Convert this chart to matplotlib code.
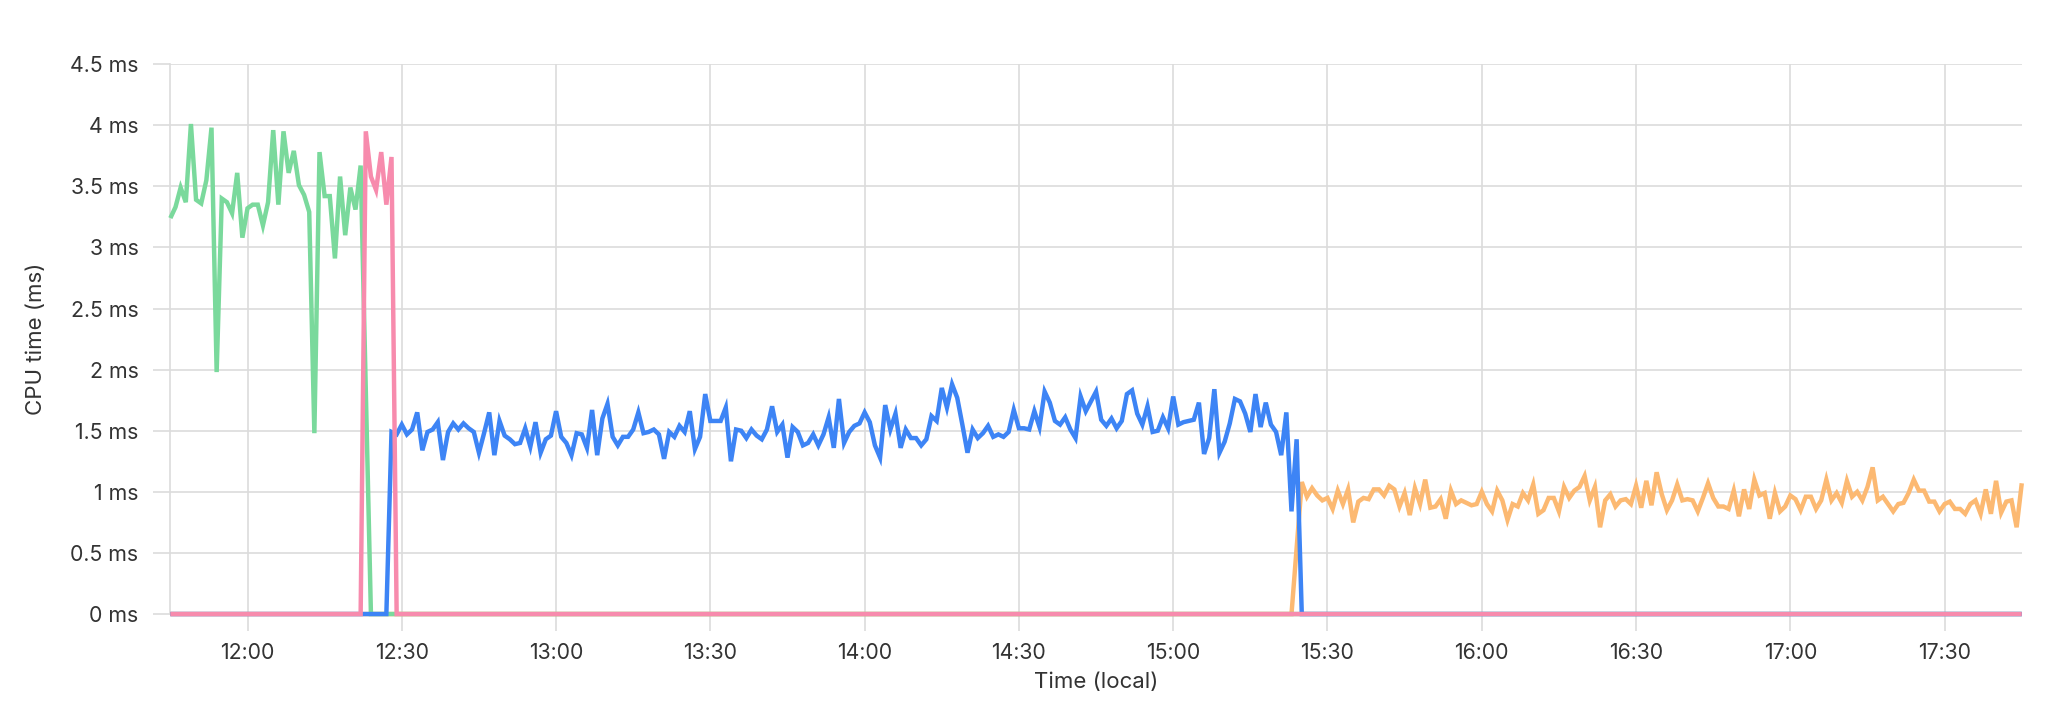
import numpy as np
import pandas as pd
import matplotlib
matplotlib.use("Agg")
import matplotlib.pyplot as plt
import matplotlib.dates as mdates
from matplotlib.ticker import FuncFormatter

plt.rcParams['font.family'] = ['Inter', 'DejaVu Sans']

# ---- data (1-minute samples, 11:45 .. 17:45 local) ----
start_time = "2024-01-01 11:45"
n_points = 361

green_start = 0
green_values = [3.24, 3.33, 3.49, 3.37, 4.01, 3.39, 3.36, 3.55, 3.98, 1.98,
                3.40, 3.37, 3.28, 3.61, 3.08, 3.32, 3.35, 3.35, 3.18, 3.37,
                3.96, 3.35, 3.95, 3.61, 3.79, 3.51, 3.43, 3.29, 1.48, 3.78,
                3.42, 3.42, 2.91, 3.58, 3.10, 3.49, 3.31, 3.67, 1.84]

pink_start = 38
pink_values = [3.95, 3.58, 3.47, 3.78, 3.35, 3.74]

blue_start = 43
blue_values = [1.49, 1.47, 1.55, 1.47, 1.51, 1.65, 1.34, 1.49, 1.51, 1.57,
               1.26, 1.49, 1.56, 1.51, 1.56, 1.52, 1.49, 1.32, 1.48, 1.65,
               1.30, 1.58, 1.46, 1.43, 1.39, 1.40, 1.52, 1.37, 1.57, 1.32,
               1.43, 1.46, 1.66, 1.45, 1.40, 1.30, 1.48, 1.47, 1.36, 1.67,
               1.30, 1.60, 1.72, 1.45, 1.38, 1.45, 1.45, 1.51, 1.65, 1.48,
               1.49, 1.51, 1.47, 1.27, 1.49, 1.45, 1.54, 1.49, 1.66, 1.35,
               1.45, 1.80, 1.58, 1.58, 1.58, 1.69, 1.25, 1.51, 1.50, 1.44,
               1.51, 1.46, 1.43, 1.51, 1.70, 1.49, 1.55, 1.28, 1.53, 1.49,
               1.38, 1.40, 1.47, 1.38, 1.47, 1.61, 1.36, 1.76, 1.40, 1.49,
               1.54, 1.56, 1.65, 1.57, 1.38, 1.28, 1.71, 1.51, 1.64, 1.36,
               1.51, 1.44, 1.44, 1.38, 1.43, 1.62, 1.58, 1.85, 1.69, 1.88,
               1.77, 1.55, 1.32, 1.51, 1.44, 1.48, 1.54, 1.45, 1.47, 1.45,
               1.49, 1.67, 1.52, 1.52, 1.51, 1.66, 1.53, 1.82, 1.73, 1.58,
               1.55, 1.61, 1.51, 1.44, 1.78, 1.66, 1.74, 1.82, 1.59, 1.54,
               1.60, 1.52, 1.58, 1.80, 1.83, 1.64, 1.55, 1.70, 1.49, 1.50,
               1.61, 1.52, 1.78, 1.55, 1.57, 1.58, 1.59, 1.73, 1.31, 1.44,
               1.84, 1.32, 1.41, 1.56, 1.76, 1.74, 1.64, 1.49, 1.80, 1.53,
               1.73, 1.55, 1.49, 1.30, 1.65, 0.84, 1.43]

orange_start = 219
orange_values = [0.54,
                 1.08, 0.96, 1.03, 0.97, 0.93, 0.95, 0.86, 1.01, 0.90, 1.02,
                 0.75, 0.92, 0.95, 0.94, 1.02, 1.02, 0.97, 1.05, 1.02, 0.88,
                 0.99, 0.81, 1.03, 0.90, 1.10, 0.87, 0.88, 0.94, 0.78, 1.01,
                 0.90, 0.93, 0.91, 0.89, 0.90, 1.00, 0.90, 0.84, 1.01, 0.93,
                 0.77, 0.90, 0.88, 0.99, 0.93, 1.06, 0.82, 0.85, 0.95, 0.95,
                 0.84, 1.04, 0.95, 1.01, 1.04, 1.13, 0.93, 1.04, 0.71, 0.93,
                 0.98, 0.88, 0.93, 0.94, 0.90, 1.05, 0.87, 1.09, 0.89, 1.16,
                 0.98, 0.85, 0.93, 1.06, 0.93, 0.94, 0.93, 0.84, 0.95, 1.07,
                 0.95, 0.88, 0.88, 0.86, 1.01, 0.80, 1.02, 0.86, 1.10, 0.97,
                 0.99, 0.78, 0.99, 0.84, 0.88, 0.97, 0.94, 0.85, 0.96, 0.96,
                 0.86, 0.93, 1.10, 0.93, 0.99, 0.91, 1.09, 0.96, 1.00, 0.93,
                 1.04, 1.20, 0.93, 0.96, 0.90, 0.84, 0.90, 0.91, 0.99, 1.10,
                 1.01, 1.01, 0.92, 0.92, 0.84, 0.90, 0.92, 0.86, 0.86, 0.82,
                 0.90, 0.93, 0.82, 1.02, 0.82, 1.09, 0.83, 0.92, 0.93, 0.71,
                 1.07]

y_ticks = [0, 0.5, 1, 1.5, 2, 2.5, 3, 3.5, 4, 4.5]

colors = {"green": "#7ad99c", "pink": "#f78bad", "blue": "#3d84f5", "orange": "#fcb972"}

# ---- build full series (zero outside each series' active window) ----
times = pd.date_range(start_time, periods=n_points, freq="1min")


def full_series(start, values):
    arr = np.zeros(n_points)
    arr[start:start + len(values)] = values
    return arr


series = [
    ("orange", full_series(orange_start, orange_values)),
    ("green", full_series(green_start, green_values)),
    ("blue", full_series(blue_start, blue_values)),
    ("pink", full_series(pink_start, pink_values)),
]

fig = plt.figure(figsize=(20.70, 7.18), dpi=100)
ax = fig.add_axes([0.0823, 0.1448, 0.9767 - 0.0823, 0.9107 - 0.1448])

for name, vals in series:
    ax.plot(times, vals, color=colors[name], lw=3.2, solid_joinstyle="miter",
            solid_capstyle="butt", zorder=3, clip_on=False)

ax.set_xlim(times[0], times[-1])
ax.set_ylim(0, 4.5)
ax.set_yticks(y_ticks)
ax.yaxis.set_major_formatter(FuncFormatter(lambda v, p: f"{v:g} ms"))
ax.xaxis.set_major_locator(mdates.MinuteLocator(byminute=[0, 30]))
ax.xaxis.set_major_formatter(mdates.DateFormatter("%H:%M"))

grid_c = "#dcdcdc"
ax.grid(True, color=grid_c, lw=1.2, zorder=0)
for s in ["top", "right", "bottom"]:
    ax.spines[s].set_visible(False)
ax.spines["left"].set_color(grid_c)
ax.spines["left"].set_linewidth(1.2)
ax.tick_params(axis="both", colors=grid_c, width=1.2, length=12,
               labelcolor="#333333", labelsize=15.3)
ax.tick_params(axis="y", pad=11)
ax.tick_params(axis="x", pad=9)

ax.set_ylabel("CPU time (ms)", fontsize=16, color="#333333", labelpad=17)
ax.set_xlabel("Time (local)", fontsize=16, color="#333333", labelpad=6)

fig.savefig("out.png", dpi=100)
